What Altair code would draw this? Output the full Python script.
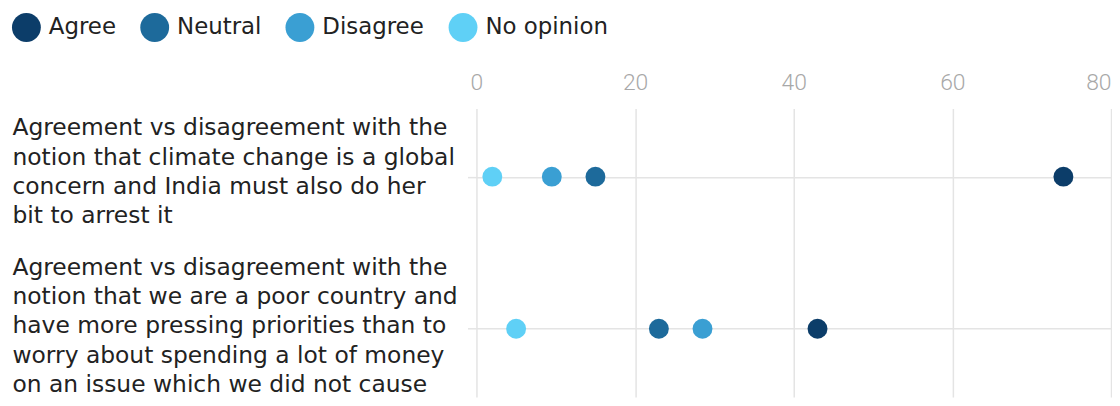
import altair as alt
import pandas as pd

statements = [
    "Agreement vs disagreement with the|notion that climate change is a global|concern and India must also do her|bit to arrest it",
    "Agreement vs disagreement with the|notion that we are a poor country and|have more pressing priorities than to|worry about spending a lot of money|on an issue which we did not cause",
]
responses = ["Agree", "Neutral", "Disagree", "No opinion"]
colors = ["#0c3d69", "#1d6a9b", "#3a9fd3", "#5fd0f6"]
values_climate = [74, 15, 9.5, 2]
values_poor = [43, 23, 28.5, 5]
tick_values = [0, 20, 40, 60, 80]

rows = []
for stmt, vals in zip(statements, [values_climate, values_poor]):
    for resp, v in zip(responses, vals):
        rows.append({"statement": stmt, "response": resp, "value": v})
df = pd.DataFrame(rows)

chart = alt.Chart(df).mark_circle(size=400, opacity=1).encode(
    x=alt.X(
        "value:Q",
        scale=alt.Scale(domain=[0, 80], nice=False, zero=True),
        axis=alt.Axis(
            orient="top", values=tick_values, title=None, domain=False, ticks=False,
            labelFont="Roboto", labelFontSize=23, labelFontWeight=300, labelColor="#a8a8a8",
            labelPadding=14, grid=True, gridColor="#e4e4e4", gridWidth=1.5,
            labelAlign={"condition": {"test": "datum.value >= 80", "value": "right"}, "value": "center"},
        ),
    ),
    y=alt.Y(
        "statement:N",
        sort=statements,
        scale=alt.Scale(type="point", padding=0.448),
        axis=alt.Axis(
            title=None, labelExpr="split(datum.label, '|')", labelAlign="left",
            labelBaseline="middle", labelPadding=458, tickSize=9, labelLimit=600,
            labelFont="DejaVu Sans", labelFontSize=23.5, labelColor="#222222", labelLineHeight=29.5,
            labelOffset={"condition": {"test": "length(split(datum.value, '|')) > 4", "value": -62}, "value": -49},
            domain=False, grid=True, gridColor="#e4e4e4", gridWidth=1.5,
            tickColor="#e4e4e4", tickWidth=1.5,
        ),
    ),
    color=alt.Color(
        "response:N",
        sort=responses,
        scale=alt.Scale(domain=responses, range=colors),
        legend=alt.Legend(
            title=None, orient="none", direction="horizontal", legendX=-467, legendY=-96,
            symbolType="circle", symbolSize=841, symbolStrokeWidth=0, symbolOpacity=1,
            labelFont="DejaVu Sans", labelFontSize=23, labelColor="#222222",
            labelOffset=8, columnPadding=24, padding=0, columns=4,
        ),
    ),
).properties(
    width=638, height=290,
    padding={"left": 4, "top": 4, "right": 1, "bottom": 0},
).configure_view(stroke=None)

chart.save("out.html", embed_options={"renderer": "svg", "actions": False})
